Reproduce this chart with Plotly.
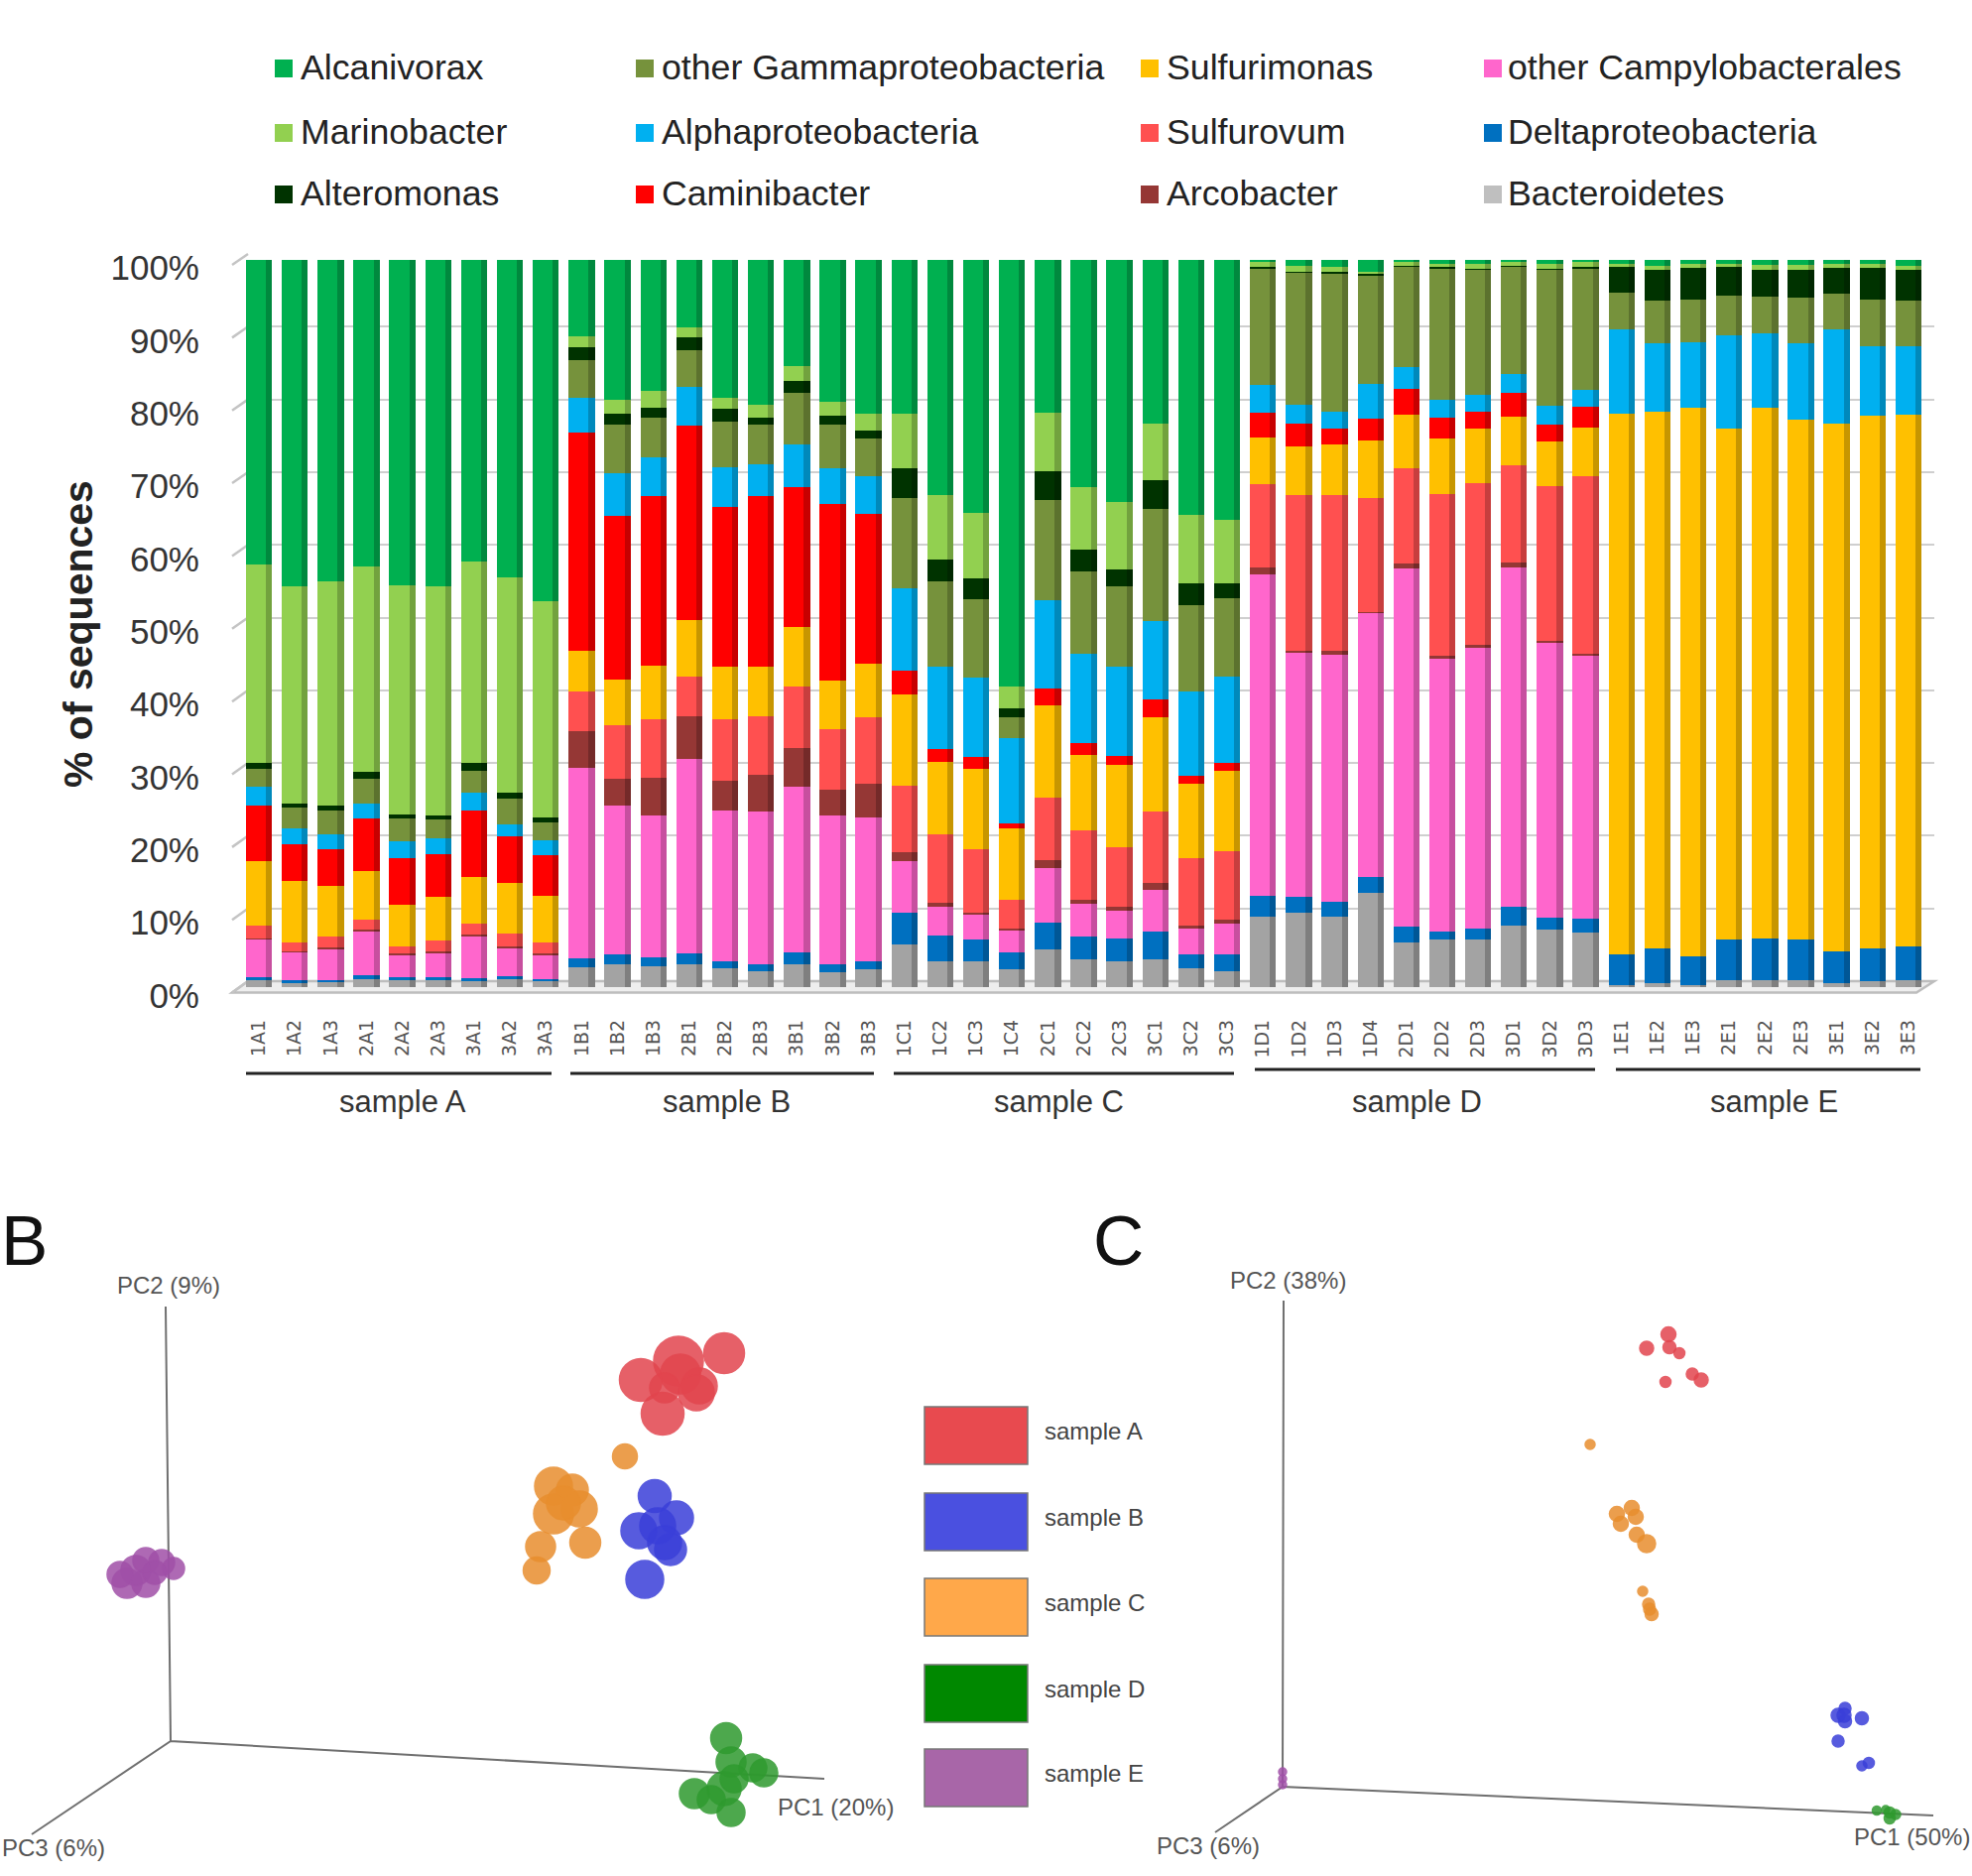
import numpy as np
import plotly.graph_objects as go

W, H = 1988, 1891

series_names = ["Bacteroidetes", "Deltaproteobacteria", "other Campylobacterales", "Arcobacter",
                "Sulfurovum", "Sulfurimonas", "Caminibacter", "Alphaproteobacteria",
                "other Gammaproteobacteria", "Alteromonas", "Marinobacter", "Alcanivorax"]
series_colors = ["#a3a3a3", "#0070c0", "#ff66cc", "#953735", "#ff5050", "#ffc000", "#ff0000",
                 "#00b0f0", "#76923c", "#003300", "#92d050", "#00b050"]

bar_labels_A = ["1A1", "1A2", "1A3", "2A1", "2A2", "2A3", "3A1", "3A2", "3A3"]
bar_labels_B = ["1B1", "1B2", "1B3", "2B1", "2B2", "2B3", "3B1", "3B2", "3B3"]
bar_labels_C = ["1C1", "1C2", "1C3", "1C4", "2C1", "2C2", "2C3", "3C1", "3C2", "3C3"]
bar_labels_D = ["1D1", "1D2", "1D3", "1D4", "2D1", "2D2", "2D3", "3D1", "3D2", "3D3"]
bar_labels_E = ["1E1", "1E2", "1E3", "2E1", "2E2", "2E3", "3E1", "3E2", "3E3"]

# cumulative tops of each stacked segment, bottom to top (the last segment always reaches 100)
tops_A = [
    [0.9, 1.3, 6.6, 6.7, 8.5, 17.3, 24.9, 27.5, 30.0, 30.8, 58.1],
    [0.6, 0.9, 4.8, 4.9, 6.1, 14.6, 19.6, 21.8, 24.7, 25.3, 55.1],
    [0.7, 1.0, 5.3, 5.5, 6.9, 13.9, 19.0, 21.0, 24.3, 25.0, 55.8],
    [1.1, 1.6, 7.7, 7.9, 9.3, 16.0, 23.2, 25.3, 28.6, 29.6, 57.9],
    [1.0, 1.4, 4.5, 4.7, 5.6, 11.3, 17.8, 20.0, 23.2, 23.8, 55.2],
    [1.0, 1.4, 4.7, 4.9, 6.4, 12.4, 18.3, 20.5, 23.0, 23.6, 55.1],
    [0.8, 1.2, 7.0, 7.2, 8.7, 15.1, 24.3, 26.8, 29.8, 30.8, 58.5],
    [1.1, 1.5, 5.3, 5.6, 7.3, 14.3, 20.7, 22.4, 25.9, 26.7, 56.4],
    [0.8, 1.1, 4.5, 4.7, 6.1, 12.6, 18.1, 20.2, 22.6, 23.3, 53.1],
]
tops_B = [
    [2.7, 4.0, 30.2, 35.2, 40.6, 46.3, 76.2, 81.1, 86.2, 88.0, 89.5],
    [3.1, 4.5, 24.9, 28.6, 36.0, 42.3, 64.8, 70.7, 77.3, 78.9, 80.8],
    [2.8, 4.1, 23.6, 28.8, 36.8, 44.2, 67.5, 72.8, 78.3, 79.7, 82.0],
    [3.2, 4.6, 31.4, 37.2, 42.7, 50.5, 77.2, 82.6, 87.6, 89.3, 90.7],
    [2.6, 3.6, 24.3, 28.4, 36.9, 44.1, 66.0, 71.5, 77.8, 79.5, 81.1],
    [2.2, 3.2, 24.1, 29.2, 37.2, 44.1, 67.5, 71.9, 77.4, 78.3, 80.1],
    [3.2, 4.8, 27.5, 32.9, 41.4, 49.5, 68.8, 74.6, 81.7, 83.4, 85.4],
    [2.0, 3.2, 23.6, 27.1, 35.5, 42.1, 66.5, 71.4, 77.3, 78.6, 80.5],
    [2.4, 3.6, 23.3, 27.9, 37.1, 44.5, 65.1, 70.3, 75.4, 76.6, 78.9],
]
tops_C = [
    [5.9, 10.3, 17.3, 18.6, 27.7, 40.2, 43.5, 54.9, 67.3, 71.3, 78.9],
    [3.6, 7.1, 11.0, 11.6, 21.0, 31.0, 32.8, 44.1, 55.8, 58.8, 67.6],
    [3.6, 6.6, 9.9, 10.3, 18.9, 30.0, 31.6, 42.6, 53.3, 56.2, 65.2],
    [2.4, 4.8, 7.9, 8.1, 12.0, 21.8, 22.5, 34.3, 37.1, 38.4, 41.4],
    [5.2, 8.9, 16.4, 17.5, 26.1, 38.8, 41.0, 53.2, 67.0, 70.9, 79.0],
    [3.8, 6.9, 11.4, 12.0, 21.6, 31.9, 33.5, 45.9, 57.2, 60.2, 68.7],
    [3.6, 6.7, 10.5, 11.0, 19.2, 30.6, 31.8, 44.0, 55.1, 57.4, 66.7],
    [3.8, 7.7, 13.4, 14.3, 24.1, 37.1, 39.6, 50.4, 65.8, 69.7, 77.5],
    [2.6, 4.5, 8.1, 8.5, 17.8, 27.9, 29.0, 40.6, 52.5, 55.5, 65.0],
    [2.2, 4.5, 8.8, 9.3, 18.7, 29.8, 30.8, 42.7, 53.5, 55.5, 64.2],
]
tops_D = [
    [9.7, 12.6, 56.8, 57.7, 69.2, 75.6, 79.0, 82.8, 98.9, 99.1, 99.7],
    [10.3, 12.4, 46.0, 46.2, 67.6, 74.4, 77.5, 80.1, 98.3, 98.4, 99.2],
    [9.7, 11.8, 45.7, 46.2, 67.6, 74.6, 76.8, 79.1, 98.1, 98.3, 99.1],
    [13.0, 15.2, 51.5, 51.6, 67.2, 75.2, 78.2, 82.9, 97.9, 98.1, 98.4],
    [6.1, 8.3, 57.6, 58.2, 71.3, 78.7, 82.2, 85.2, 99.1, 99.2, 99.7],
    [6.6, 7.7, 45.2, 45.5, 67.8, 75.4, 78.3, 80.7, 98.9, 99.1, 99.4],
    [6.6, 8.1, 46.6, 47.0, 69.3, 76.8, 79.1, 81.5, 98.7, 98.8, 99.4],
    [8.5, 11.0, 57.7, 58.4, 71.7, 78.4, 81.7, 84.3, 99.1, 99.2, 99.7],
    [7.9, 9.6, 47.3, 47.6, 68.9, 75.0, 77.3, 80.0, 98.7, 98.8, 99.4],
    [7.5, 9.4, 45.5, 45.9, 70.3, 77.0, 79.8, 82.1, 98.9, 99.1, 99.7],
]
tops_E = [
    [0.3, 4.5, 4.5, 4.5, 4.5, 78.9, 78.9, 90.5, 95.5, 99.1, 99.4],
    [0.6, 5.3, 5.3, 5.3, 5.3, 79.1, 79.1, 88.5, 94.4, 98.7, 99.2],
    [0.3, 4.2, 4.2, 4.2, 4.2, 79.7, 79.7, 88.7, 94.5, 98.9, 99.4],
    [0.9, 6.5, 6.5, 6.5, 6.5, 76.8, 76.8, 89.7, 95.1, 99.1, 99.4],
    [1.0, 6.7, 6.7, 6.7, 6.7, 79.7, 79.7, 89.9, 94.9, 98.7, 99.3],
    [0.9, 6.5, 6.5, 6.5, 6.5, 78.1, 78.1, 88.5, 94.8, 98.7, 99.3],
    [0.5, 4.9, 4.9, 4.9, 4.9, 77.5, 77.5, 90.5, 95.3, 98.9, 99.4],
    [0.8, 5.3, 5.3, 5.3, 5.3, 78.6, 78.6, 88.1, 94.5, 98.9, 99.4],
    [1.0, 5.6, 5.6, 5.6, 5.6, 78.7, 78.7, 88.1, 94.4, 98.7, 99.2],
]

sample_names = ["sample A", "sample B", "sample C", "sample D", "sample E"]
sample_colors = ["#e84a4f", "#4a50e0", "#ffa84a", "#008800", "#a866a8"]
point_colors = ["#e2454e", "#3a3fd9", "#e88e2e", "#2f9a2f", "#a050a8"]

# Panel B: projected PCoA positions and apparent sphere diameter
pcoa_b = {
    "sample A": ([512, 474, 558, 533, 514, 498, 496, 530], [383, 364, 391, 358, 370, 356, 330, 351], [50, 43, 41, 36, 40, 30, 43, 36]),
    "sample B": ([488, 510, 472, 491, 504, 498, 478], [247, 225, 212, 217, 193, 200, 163], [33, 34, 36, 36, 32, 34, 38]),
    "sample C": ([458, 386, 405, 386, 412, 373, 418, 369, 396], [287, 257, 253, 229, 234, 196, 200, 172, 240], [25, 38, 32, 40, 36, 30, 31, 27, 34]),
    "sample D": ([560, 565, 587, 598, 528, 558, 545, 565, 568], [3, -21, -27, -32, -53, -48, -59, -72, -38], [31, 30, 28, 28, 30, 34, 28, 28, 28]),
    "sample E": ([-44, -25, -35, -25, -9, 3, -51, -16], [159, 159, 172, 182, 180, 174, 168, 170], [30, 28, 30, 26, 26, 22, 26, 24]),
}
axes_b_x = [659, 0, -5, 0, -140]
axes_b_y = [-38, 0, 438, 0, -94]
axes_b_labels = ["PC1 (20%)", "PC2 (9%)", "PC3 (6%)"]

# Panel C
pcoa_c = {
    "sample A": ([389, 367, 390, 400, 386, 413, 422], [456, 442, 443, 437, 408, 416, 410], [15, 14, 13, 11, 11, 12, 14]),
    "sample B": ([567, 560, 567, 566, 584, 560, 584, 591], [79, 72, 66, 72, 69, 46, 21, 24], [12, 14, 13, 14, 13, 12, 10, 11]),
    "sample C": ([310, 337, 352, 356, 341, 357, 367, 363, 369, 372, 370], [345, 275, 281, 272, 265, 254, 245, 197, 184, 174, 179], [10, 15, 15, 15, 15, 15, 18, 10, 12, 13, 12]),
    "sample D": ([599, 612, 618, 612, 608], [-24, -26, -28, -32, -23], [9, 11, 10, 11, 8]),
    "sample E": ([0, 0, 0], [15, 8, 2], [8, 8, 8]),
}
axes_c_x = [656, 0, 1, 0, -68]
axes_c_y = [-29, 0, 490, 0, -46]
axes_c_labels = ["PC1 (50%)", "PC2 (38%)", "PC3 (6%)"]


def fx(px):
    return px / W


def fy(py):
    return 1 - py / H


bar_labels = bar_labels_A + bar_labels_B + bar_labels_C + bar_labels_D + bar_labels_E
tops = np.array(tops_A + tops_B + tops_C + tops_D + tops_E)
tops = np.hstack([np.zeros((len(tops), 1)), tops, np.full((len(tops), 1), 100.0)])
values = np.diff(tops, axis=1)
positions = list(range(len(bar_labels)))

fig = go.Figure()

# empty traces so that the wall and frame axes get drawn
for xa, ya in [("x", "y"), ("x2", "y2")]:
    fig.add_trace(go.Scatter(x=[None], y=[None], xaxis=xa, yaxis=ya, showlegend=False, hoverinfo="skip"))

for i, name in enumerate(series_names):
    fig.add_trace(go.Bar(x=positions, y=values[:, i], name=name, marker=dict(color=series_colors[i], line=dict(width=0)),
                         xaxis="x3", yaxis="y3", showlegend=False))

# darker right flank of the 3-D columns
fig.add_trace(go.Bar(x=positions, y=tops[:, -1], width=0.17, offset=0.195, marker=dict(color="rgba(0,0,0,0.22)", line=dict(width=0)),
                     xaxis="x6", yaxis="y6", showlegend=False, hoverinfo="skip"))

for (pcoa, ax, ay, xa, ya) in [(pcoa_b, axes_b_x, axes_b_y, "x4", "y4"), (pcoa_c, axes_c_x, axes_c_y, "x5", "y5")]:
    fig.add_trace(go.Scatter(x=ax, y=ay, mode="lines", line=dict(color="#6f6f6f", width=2), xaxis=xa, yaxis=ya,
                             showlegend=False, hoverinfo="skip"))
    for name, col in zip(sample_names, point_colors):
        xs, ys, ds = pcoa[name]
        fig.add_trace(go.Scatter(x=xs, y=ys, mode="markers", name=name, xaxis=xa, yaxis=ya, showlegend=False,
                                 marker=dict(color=col, size=ds, opacity=0.85, line=dict(color=col, width=1.5))))

bars_domain_x = [fx(243), fx(1942)]
bars_domain_y = [fy(995), fy(262)]
layout = dict(
    width=W, height=H, margin=dict(l=0, r=0, t=0, b=0, autoexpand=False), paper_bgcolor="white", plot_bgcolor="rgba(0,0,0,0)",
    barmode="stack", bargap=0.27, showlegend=False, font=dict(family="Liberation Sans", color="#333333"),
    # back wall of the 3-D chart: gridlines only
    xaxis=dict(domain=[fx(250), fx(1950)], anchor="y", visible=False, range=[0, 1]),
    yaxis=dict(domain=[fy(989), fy(256)], anchor="x", range=[0, 100], dtick=10, showgrid=True, gridcolor="#cfcfcf",
               gridwidth=2, showticklabels=False, zeroline=False, showline=False, ticks=""),
    # front frame: percentage labels
    xaxis2=dict(domain=[fx(234), fx(1932)], anchor="y2", visible=False, range=[0, 1]),
    yaxis2=dict(domain=[fy(1003.5), fy(270)], anchor="x2", range=[0, 100], dtick=10, ticksuffix="%", showgrid=False,
                ticks="", ticklabelstandoff=32, tickfont=dict(size=35, color="#333333"), zeroline=False,
                showline=False),
    # bars
    xaxis3=dict(domain=bars_domain_x, anchor="y3", range=[-0.5, 46.5], tickmode="array", tickvals=positions,
                ticktext=bar_labels, tickangle=-90, tickfont=dict(size=19, color="#555555", family="DejaVu Sans"),
                ticks="", ticklabelstandoff=28, showgrid=False, zeroline=False, showline=False),
    yaxis3=dict(domain=bars_domain_y, anchor="x3", range=[0, 100], visible=False),
    # PCoA panels
    xaxis4=dict(domain=[fx(0), fx(1000)], anchor="y4", range=[-172, 828], visible=False),
    yaxis4=dict(domain=[fy(1891), fy(1250)], anchor="x4", range=[-136, 505], visible=False),
    xaxis5=dict(domain=[fx(1080), fx(1988)], anchor="y5", range=[-213, 695], visible=False),
    yaxis5=dict(domain=[fy(1891), fy(1250)], anchor="x5", range=[-90, 551], visible=False),
    # flank overlay
    xaxis6=dict(domain=bars_domain_x, anchor="y6", range=[-0.5, 46.5], visible=False),
    yaxis6=dict(domain=bars_domain_y, anchor="x6", range=[0, 100], visible=False),
)
for key in list(layout):
    if key.startswith(("xaxis", "yaxis")):
        layout[key]["automargin"] = False

annotations = []
shapes = []


def text(t, x, y, size, color="#333333", anchor="center", angle=0, bold=False):
    annotations.append(dict(text=f"<b>{t}</b>" if bold else t, x=fx(x), y=fy(y), xref="paper", yref="paper",
                            xanchor=anchor, yanchor="middle", showarrow=False, textangle=angle,
                            font=dict(size=size, color=color)))


text("% of sequences", 79, 639, 41, "#222222", angle=-90, bold=True)

# 3-D frame: floor and the slanted stubs joining front ticks to the wall gridlines
shapes.append(dict(type="path", xref="paper", yref="paper", layer="below",
                   path=f"M {fx(234)} {fy(1000.6)} L {fx(1932)} {fy(1000.6)} L {fx(1950)} {fy(989)} L {fx(250)} {fy(989)} Z",
                   fillcolor="#eeeeee", line=dict(color="#bdbdbd", width=2.5)))
for k in range(0, 101, 10):
    shapes.append(dict(type="line", xref="paper", yref="paper", layer="below",
                       x0=fx(234), y0=fy(1000.6 - k * 7.336), x1=fx(250), y1=fy(989 - k * 7.33),
                       line=dict(color="#c4c4c4", width=2.5)))

# species legend, four columns of three rows
legend_rows = [["Alcanivorax", "other Gammaproteobacteria", "Sulfurimonas", "other Campylobacterales"],
               ["Marinobacter", "Alphaproteobacteria", "Sulfurovum", "Deltaproteobacteria"],
               ["Alteromonas", "Caminibacter", "Arcobacter", "Bacteroidetes"]]
col_px = [286, 650, 1159, 1505]
text_px = [301, 665, 1174, 1518]
row_px = [69, 134, 196]
legend_key_color = dict(zip(series_names, series_colors))
legend_key_color["Bacteroidetes"] = "#bfbfbf"
for row, ry in zip(legend_rows, row_px):
    for name, cx, tx in zip(row, col_px, text_px):
        shapes.append(dict(type="rect", xref="paper", yref="paper", x0=fx(cx - 9), x1=fx(cx + 9), y0=fy(ry + 9),
                           y1=fy(ry - 9), fillcolor=legend_key_color[name], line=dict(width=0)))
        text(name, tx, ry - 1, 35.7, "#222222", anchor="left")

# group rules and names below the bars
rule_spans = [(248, 556), (575, 881), (901, 1244), (1265, 1608), (1629, 1936)]
rule_y = [1082, 1082, 1082, 1078, 1078]
label_x = [406, 732, 1067, 1428, 1788]
for name, (r0, r1), ry, lx in zip(sample_names, rule_spans, rule_y, label_x):
    shapes.append(dict(type="line", xref="paper", yref="paper", x0=fx(r0), x1=fx(r1), y0=fy(ry), y1=fy(ry),
                       line=dict(color="#222222", width=3)))
    text(name, lx, 1110, 31, "#333333")

# panel letters
text("B", 24, 1250, 71, "#111111")
text("C", 1127, 1250, 71, "#111111")

# PCoA axis names
for t, (x, y) in zip(axes_b_labels, [(842, 1821), (170, 1295), (54, 1862)]):
    text(t, x, y, 24, "#555555")
for t, (x, y) in zip(axes_c_labels, [(1927, 1851), (1298, 1290), (1218, 1860)]):
    text(t, x, y, 24, "#555555")

# sample key between the panels
key_tops = [1418, 1505, 1591, 1678, 1763]
for name, col, ky in zip(sample_names, sample_colors, key_tops):
    shapes.append(dict(type="rect", xref="paper", yref="paper", x0=fx(932), x1=fx(1036), y0=fy(ky + 58), y1=fy(ky),
                       fillcolor=col, line=dict(color="#777777", width=1.5)))
    text(name, 1051, ky + 24, 24, "#444444", anchor="left")

layout["annotations"] = annotations
layout["shapes"] = shapes
fig.update_layout(**layout)

fig.write_html("out.html", config={"displayModeBar": False}, post_script="document.body.style.margin='0';")
